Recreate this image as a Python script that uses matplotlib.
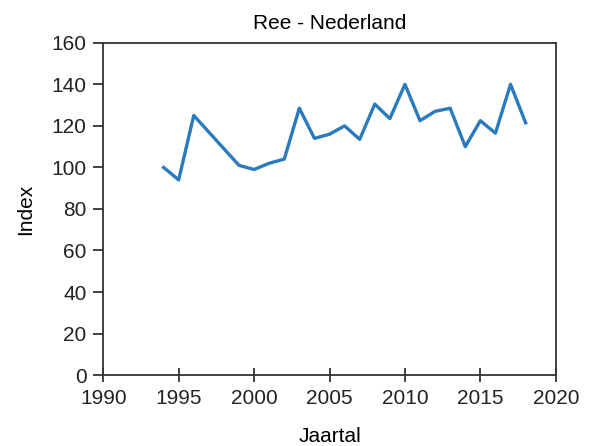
import matplotlib
matplotlib.use("Agg")
import matplotlib.pyplot as plt

plt.rcParams['font.family'] = ['Liberation Sans', 'DejaVu Sans']

years = [1994, 1995, 1996, 1997, 1998, 1999, 2000, 2001, 2002, 2003, 2004, 2005,
         2006, 2007, 2008, 2009, 2010, 2011, 2012, 2013, 2014, 2015, 2016, 2017, 2018]
index = [100, 94, 125, 117, 109, 101, 99, 102, 104, 128.5, 114, 116,
         120, 113.5, 130.5, 123.5, 140, 122.5, 127, 128.5, 110, 122.5, 116.5, 140, 121.5]

fig = plt.figure(figsize=(5.9, 4.46), dpi=100)
ax = fig.add_axes([0.175, 0.159, 0.767, 0.745])
ax.plot(years, index, color='#2a7bbd', lw=2.4)
ax.set_xlim(1990, 2020)
ax.set_ylim(0, 160)
ax.set_xticks(range(1990, 2021, 5))
ax.set_yticks(range(0, 161, 20))
ax.tick_params(labelsize=15, width=1.2, colors='#222222')
ax.tick_params(axis='x', direction='inout', length=10, pad=5)
ax.tick_params(axis='y', direction='out', length=7, pad=5)
for s in ax.spines.values():
    s.set_linewidth(1.3)
    s.set_color('#333333')
ax.set_title('Ree - Nederland', fontsize=15, pad=10)
ax.set_xlabel('Jaartal', fontsize=15, labelpad=14)
ax.set_ylabel('Index', fontsize=15, labelpad=12)
fig.savefig('out.png')
